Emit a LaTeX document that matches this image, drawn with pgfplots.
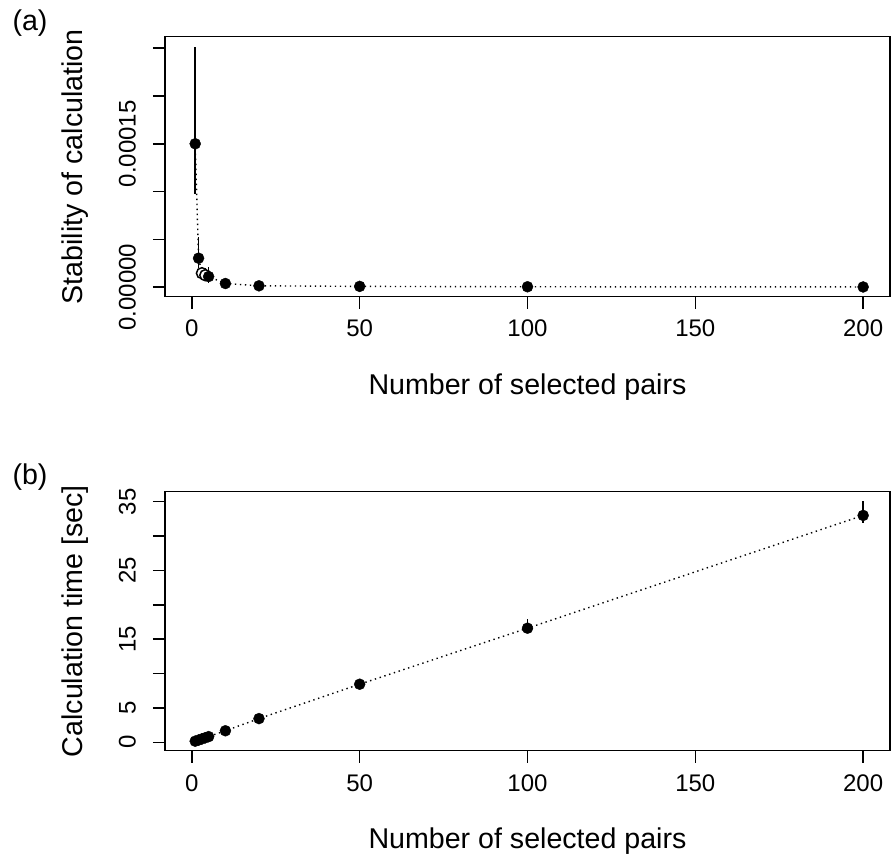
\documentclass[border=0pt]{standalone}
\usepackage{pgfplots}
\pgfplotsset{compat=1.18}
\usepackage{pgfplotstable}
\usepackage{fontspec}
\setmainfont{Liberation Sans}
\newcommand{\tickfont}{\fontsize{24}{28}\selectfont}
\newcommand{\labfont}{\fontsize{28.6}{34}\selectfont}

\pgfplotstableread{
x y ep em
1 1.50e-4 1.017e-4 0.527e-4
2 3.03e-5 2.26e-5 1.0e-5
5 1.11e-5 1.04e-5 0.66e-5
10 3.8e-6 1.5e-6 1.5e-6
20 1.4e-6 0.5e-6 0.5e-6
50 8e-7 2e-7 2e-7
100 4e-7 1e-7 1e-7
200 2e-7 1e-7 1e-7
}\dataAfilled
\pgfplotstableread{
x y ep em
3 1.46e-5 0.6e-5 0.5e-5
4 1.25e-5 0.8e-5 0.6e-5
}\dataAopen
\pgfplotstableread{
x y
1 1.50e-4
2 3.03e-5
3 1.46e-5
4 1.25e-5
5 1.11e-5
10 3.8e-6
20 1.4e-6
50 8e-7
100 4e-7
200 2e-7
}\dataAline
\pgfplotstableread{
x y ep em
1 0.17 0.05 0.05
2 0.33 0.05 0.05
3 0.50 0.06 0.06
4 0.66 0.08 0.08
5 0.83 0.10 0.10
10 1.68 0.15 0.15
20 3.45 0.20 0.20
50 8.45 0.40 0.30
100 16.6 1.40 0.60
200 33.0 2.05 1.10
}\dataB

\pgfplotsset{
  rstyle/.style={
    scale only axis, width=725pt,
    xmin=-8, xmax=208,
    axis line style={line width=1.5pt, black},
    every tick/.style={line width=1.5pt, black},
    tick align=outside, major tick length=12pt,
    xtick pos=bottom, ytick pos=left,
    scaled ticks=false,
    xtick={0,50,100,150,200},
    xticklabels={0,50,100,150,200},
    ticklabel style={font=\tickfont},
    xticklabel style={anchor=north, yshift=-8pt},
    yticklabel style={rotate=90, anchor=south, inner sep=0pt},
    yticklabel shift=17pt,
    /pgf/number format/assume math mode=true,
    clip=false,
  },
  dotline/.style={black, line width=1.4pt, dash pattern=on 1.4pt off 3.6pt, line cap=butt, mark=none},
  ebars/.style={only marks, mark=*, mark size=5.5pt,
    error bars/.cd, y dir=both, y explicit, error mark=none,
    error bar style={line width=1.6pt, black}},
}

\begin{document}
\begin{tikzpicture}
\path[use as bounding box] (0,0) rectangle (893pt,-859pt);

\begin{axis}[rstyle,
  at={(165pt,-296.7pt)}, anchor=south west,
  height=260pt,
  ymin=-1e-5, ymax=2.62e-4,
  ytick={0,5e-5,1e-4,1.5e-4,2e-4,2.5e-4},
  yticklabels={0.00000,,,0.00015,,},
  xlabel={Number of selected pairs},
  ylabel={Stability of calculation},
  every axis x label/.style={at={(axis description cs:0.5,-0.3742)}, anchor=base, font=\labfont},
  every axis y label/.style={at={(axis description cs:-0.1241,0.5)}, rotate=90, anchor=center, font=\labfont},
]
\addplot[dotline] table[x=x,y=y] {\dataAline};
\addplot[black, mark options={fill=white, draw=black, line width=1.5pt}, ebars]
  table[x=x, y=y, y error plus=ep, y error minus=em] {\dataAopen};
\addplot[black, mark options={fill=black, draw=black}, ebars]
  table[x=x, y=y, y error plus=ep, y error minus=em] {\dataAfilled};
\end{axis}

\begin{axis}[rstyle,
  at={(165pt,-750.7pt)}, anchor=south west,
  height=259pt,
  ymin=-1.22, ymax=36.45,
  ytick={0,5,10,15,20,25,30,35},
  yticklabels={0,5,,15,,25,,35},
  xlabel={Number of selected pairs},
  ylabel={Calculation time [sec]},
  every axis x label/.style={at={(axis description cs:0.5,-0.3757)}, anchor=base, font=\labfont},
  every axis y label/.style={at={(axis description cs:-0.1241,0.5)}, rotate=90, anchor=center, font=\labfont},
]
\addplot[dotline] table[x=x,y=y] {\dataB};
\addplot[black, mark options={fill=black, draw=black}, ebars]
  table[x=x, y=y, y error plus=ep, y error minus=em] {\dataB};
\end{axis}

\node[font=\labfont] at (30pt,-23pt) {(a)};
\node[font=\labfont] at (30pt,-477pt) {(b)};
\end{tikzpicture}
\end{document}
